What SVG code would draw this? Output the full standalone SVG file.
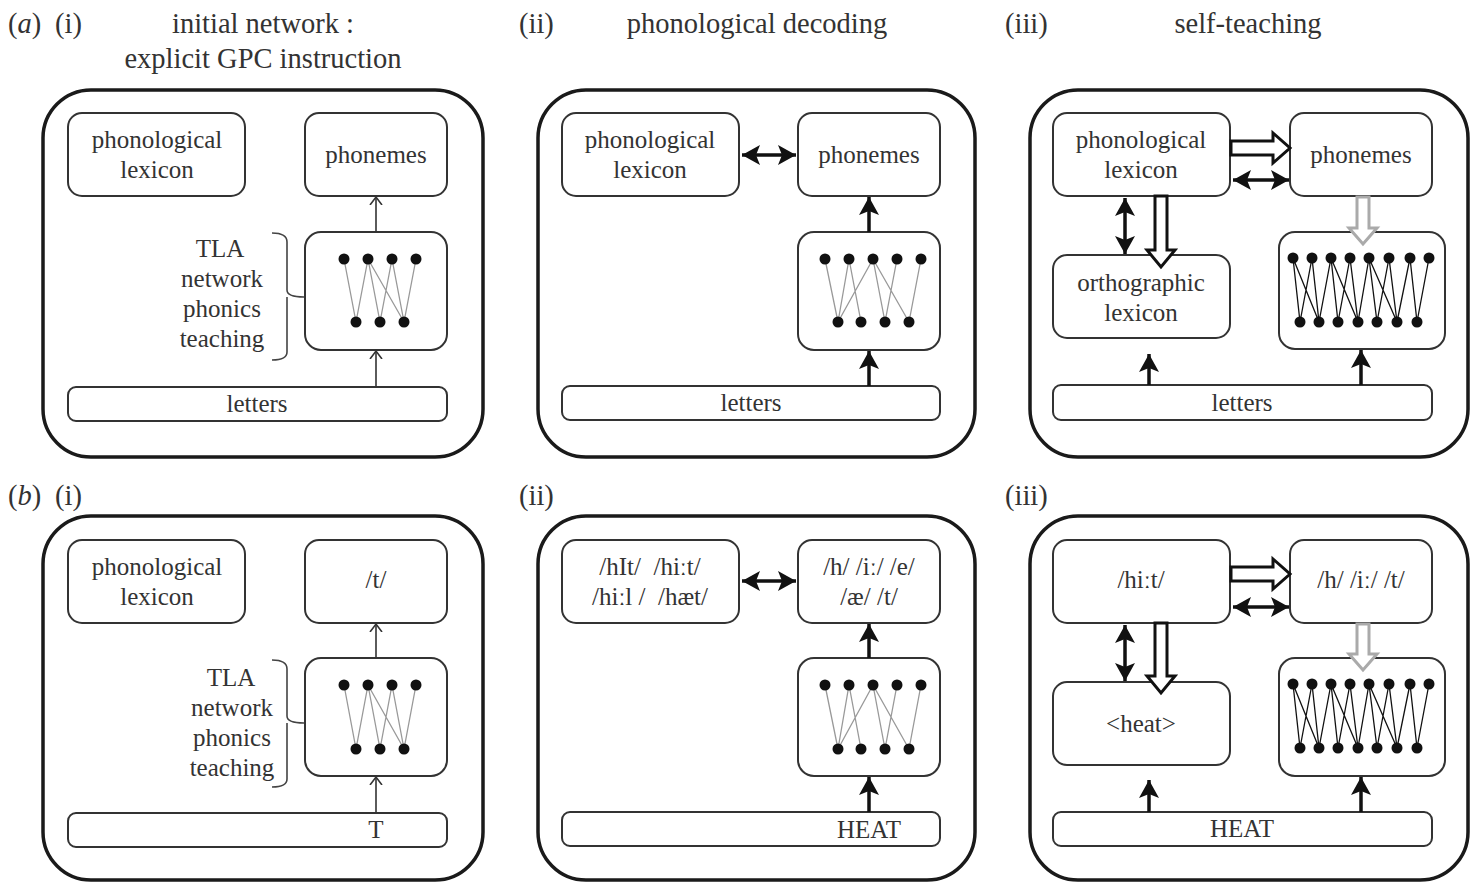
<svg xmlns="http://www.w3.org/2000/svg" width="1479" height="883" viewBox="0 0 1479 883">
<style>
text{font-family:"Liberation Serif","Times New Roman",serif;fill:#333;}
.t{font-size:28.5px;}
.l{font-size:25px;text-anchor:middle;}
.panel{fill:none;stroke:#1a1a1a;stroke-width:3.5;}
.box{fill:#fff;stroke:#333;stroke-width:2;}
.net{stroke:#999;stroke-width:1.3;fill:none;}
.netb{stroke:#111;stroke-width:1.3;fill:none;}
.dot{fill:#111;}
.thin{stroke:#333;stroke-width:1.6;fill:none;marker-end:url(#open);}
.thick{stroke:#111;stroke-width:3.5;fill:none;marker-end:url(#fill);}
.dbl{stroke:#111;stroke-width:3.5;fill:none;marker-end:url(#fill);marker-start:url(#fillS);}
.hol{fill:#fff;stroke:#111;stroke-width:3;stroke-linejoin:miter;}
.holg{fill:#fff;stroke:#aaa;stroke-width:3;}
.brace{fill:none;stroke:#444;stroke-width:1.6;}
</style>
<defs>
<marker id="open" markerUnits="userSpaceOnUse" markerWidth="16" markerHeight="16" viewBox="-8 -8 16 16" refX="0" refY="0" orient="auto">
<path d="M-8,-6 L0,0 L-8,6" fill="none" stroke="#333" stroke-width="1.6"/>
</marker>
<marker id="fill" markerUnits="userSpaceOnUse" markerWidth="22" markerHeight="24" viewBox="-18 -12 22 24" refX="0" refY="0" orient="auto">
<path d="M-18,-10 L0,0 L-18,10 L-14,0 Z" fill="#111"/>
</marker>
<marker id="fillS" markerUnits="userSpaceOnUse" markerWidth="22" markerHeight="24" viewBox="-4 -12 22 24" refX="0" refY="0" orient="auto">
<path d="M18,-10 L0,0 L18,10 L14,0 Z" fill="#111"/>
</marker>
</defs>

<g id="titles">
<text class="t" x="8" y="33">(<tspan font-style="italic">a</tspan>)</text>
<text class="t" x="55" y="33">(i)</text>
<text class="t" x="263" y="33" text-anchor="middle">initial network :</text>
<text class="t" x="263" y="68" text-anchor="middle">explicit GPC instruction</text>
<text class="t" x="519" y="33">(ii)</text>
<text class="t" x="757" y="33" text-anchor="middle">phonological decoding</text>
<text class="t" x="1005" y="33">(iii)</text>
<text class="t" x="1248" y="33" text-anchor="middle">self-teaching</text>
<text class="t" x="8" y="505">(<tspan font-style="italic">b</tspan>)</text>
<text class="t" x="55" y="505">(i)</text>
<text class="t" x="519" y="505">(ii)</text>
<text class="t" x="1005" y="505">(iii)</text>
</g>

<g id="panels">
<rect class="panel" x="43" y="90" width="440" height="367" rx="48"/>
<rect class="panel" x="538" y="90" width="437" height="367" rx="48"/>
<rect class="panel" x="1030" y="90" width="438" height="367" rx="48"/>
<rect class="panel" x="43" y="516" width="440" height="364" rx="48"/>
<rect class="panel" x="538" y="516" width="437" height="364" rx="48"/>
<rect class="panel" x="1030" y="516" width="438" height="364" rx="48"/>
</g>

<!-- a(i) -->
<g id="a1-phonlex"><rect class="box" x="68" y="113" width="177" height="83" rx="14"/><text class="l" x="157" y="148">phonological</text><text class="l" x="157" y="178">lexicon</text></g>
<g id="a1-phonemes"><rect class="box" x="305" y="113" width="142" height="83" rx="14"/><text class="l" x="376" y="163">phonemes</text></g>
<g id="a1-network"><rect class="box" x="305" y="232" width="142" height="118" rx="16"/>
<path class="net" d="M344,259L356,322M368,259L356,322M368,259L380,322M368,259L404,322M392,259L380,322M392,259L404,322M416,259L404,322"/>
<g class="dot"><circle cx="344" cy="259" r="5.5"/><circle cx="368" cy="259" r="5.5"/><circle cx="392" cy="259" r="5.5"/><circle cx="416" cy="259" r="5.5"/><circle cx="356" cy="322" r="5.5"/><circle cx="380" cy="322" r="5.5"/><circle cx="404" cy="322" r="5.5"/></g></g>
<g id="a1-tla"><path class="brace" d="M272,233 Q287,233 287,242 V290 Q287,297 304,297 M287,297 Q287,303 287,306 V352 Q287,360 272,360"/>
<text class="l" x="220" y="257">TLA</text><text class="l" x="222" y="287">network</text><text class="l" x="222" y="317">phonics</text><text class="l" x="222" y="347">teaching</text></g>
<g id="a1-letters"><rect class="box" x="68" y="387" width="379" height="34" rx="8"/><text class="l" x="257" y="412">letters</text></g>

<!-- a(ii) -->
<g id="a2-phonlex"><rect class="box" x="562" y="113" width="177" height="83" rx="14"/><text class="l" x="650" y="148">phonological</text><text class="l" x="650" y="178">lexicon</text></g>
<g id="a2-phonemes"><rect class="box" x="798" y="113" width="142" height="83" rx="14"/><text class="l" x="869" y="163">phonemes</text></g>
<g id="a2-network"><rect class="box" x="798" y="232" width="142" height="118" rx="16"/>
<path class="net" d="M825,259L838,322M849,259L838,322M849,259L861,322M873,259L838,322M873,259L885,322M873,259L909,322M897,259L885,322M921,259L909,322"/>
<g class="dot"><circle cx="825" cy="259" r="5.5"/><circle cx="849" cy="259" r="5.5"/><circle cx="873" cy="259" r="5.5"/><circle cx="897" cy="259" r="5.5"/><circle cx="921" cy="259" r="5.5"/><circle cx="838" cy="322" r="5.5"/><circle cx="861" cy="322" r="5.5"/><circle cx="885" cy="322" r="5.5"/><circle cx="909" cy="322" r="5.5"/></g></g>
<g id="a2-letters"><rect class="box" x="562" y="386" width="378" height="34" rx="8"/><text class="l" x="751" y="411">letters</text></g>

<!-- a(iii) -->
<g id="a3-phonlex"><rect class="box" x="1053" y="113" width="177" height="83" rx="14"/><text class="l" x="1141" y="148">phonological</text><text class="l" x="1141" y="178">lexicon</text></g>
<g id="a3-phonemes"><rect class="box" x="1290" y="113" width="142" height="83" rx="14"/><text class="l" x="1361" y="163">phonemes</text></g>
<g id="a3-ortho"><rect class="box" x="1053" y="255" width="177" height="83" rx="14"/><text class="l" x="1141" y="291">orthographic</text><text class="l" x="1141" y="321">lexicon</text></g>
<g id="a3-network"><rect class="box" x="1279" y="232" width="166" height="117" rx="16"/>
<path class="netb" d="M1293,258L1300,322M1293,258L1319,322M1312,258L1300,322M1312,258L1319,322M1331,258L1319,322M1331,258L1338,322M1331,258L1358,322M1350,258L1338,322M1350,258L1358,322M1369,258L1358,322M1369,258L1377,322M1369,258L1397,322M1389,258L1377,322M1389,258L1397,322M1410,258L1397,322M1410,258L1417,322M1429,258L1417,322"/>
<g class="dot"><circle cx="1293" cy="258" r="5.5"/><circle cx="1312" cy="258" r="5.5"/><circle cx="1331" cy="258" r="5.5"/><circle cx="1350" cy="258" r="5.5"/><circle cx="1369" cy="258" r="5.5"/><circle cx="1389" cy="258" r="5.5"/><circle cx="1410" cy="258" r="5.5"/><circle cx="1429" cy="258" r="5.5"/><circle cx="1300" cy="322" r="5.5"/><circle cx="1319" cy="322" r="5.5"/><circle cx="1338" cy="322" r="5.5"/><circle cx="1358" cy="322" r="5.5"/><circle cx="1377" cy="322" r="5.5"/><circle cx="1397" cy="322" r="5.5"/><circle cx="1417" cy="322" r="5.5"/></g></g>
<g id="a3-letters"><rect class="box" x="1053" y="385" width="379" height="35" rx="8"/><text class="l" x="1242" y="411">letters</text></g>

<!-- b(i) -->
<g id="b1-phonlex"><rect class="box" x="68" y="540" width="177" height="83" rx="14"/><text class="l" x="157" y="575">phonological</text><text class="l" x="157" y="605">lexicon</text></g>
<g id="b1-phonemes"><rect class="box" x="305" y="540" width="142" height="83" rx="14"/><text class="l" x="376" y="588">/t/</text></g>
<g id="b1-network"><rect class="box" x="305" y="658" width="142" height="118" rx="16"/>
<path class="net" d="M344,685L356,749M368,685L356,749M368,685L380,749M368,685L404,749M392,685L380,749M392,685L404,749M416,685L404,749"/>
<g class="dot"><circle cx="344" cy="685" r="5.5"/><circle cx="368" cy="685" r="5.5"/><circle cx="392" cy="685" r="5.5"/><circle cx="416" cy="685" r="5.5"/><circle cx="356" cy="749" r="5.5"/><circle cx="380" cy="749" r="5.5"/><circle cx="404" cy="749" r="5.5"/></g></g>
<g id="b1-tla"><path class="brace" d="M272,660 Q287,660 287,669 V716 Q287,723 304,723 M287,723 Q287,729 287,732 V779 Q287,787 272,787"/>
<text class="l" x="231" y="686">TLA</text><text class="l" x="232" y="716">network</text><text class="l" x="232" y="746">phonics</text><text class="l" x="232" y="776">teaching</text></g>
<g id="b1-letters"><rect class="box" x="68" y="813" width="379" height="34" rx="8"/><text class="l" x="376" y="838">T</text></g>

<!-- b(ii) -->
<g id="b2-phonlex"><rect class="box" x="562" y="540" width="177" height="83" rx="14"/><text class="l" x="650" y="575" xml:space="preserve">/hIt/  /hiːt/</text><text class="l" x="650" y="605" xml:space="preserve">/hiːl /  /hæt/</text></g>
<g id="b2-phonemes"><rect class="box" x="798" y="540" width="142" height="83" rx="14"/><text class="l" x="869" y="575">/h/ /iː/ /e/</text><text class="l" x="869" y="605">/æ/ /t/</text></g>
<g id="b2-network"><rect class="box" x="798" y="658" width="142" height="118" rx="16"/>
<path class="net" d="M825,685L838,749M849,685L838,749M849,685L861,749M873,685L838,749M873,685L885,749M873,685L909,749M897,685L885,749M921,685L909,749"/>
<g class="dot"><circle cx="825" cy="685" r="5.5"/><circle cx="849" cy="685" r="5.5"/><circle cx="873" cy="685" r="5.5"/><circle cx="897" cy="685" r="5.5"/><circle cx="921" cy="685" r="5.5"/><circle cx="838" cy="749" r="5.5"/><circle cx="861" cy="749" r="5.5"/><circle cx="885" cy="749" r="5.5"/><circle cx="909" cy="749" r="5.5"/></g></g>
<g id="b2-letters"><rect class="box" x="562" y="812" width="378" height="34" rx="8"/><text class="l" x="869" y="838">HEAT</text></g>

<!-- b(iii) -->
<g id="b3-phonlex"><rect class="box" x="1053" y="540" width="177" height="83" rx="14"/><text class="l" x="1141" y="588">/hiːt/</text></g>
<g id="b3-phonemes"><rect class="box" x="1290" y="540" width="142" height="83" rx="14"/><text class="l" x="1361" y="588">/h/ /iː/ /t/</text></g>
<g id="b3-ortho"><rect class="box" x="1053" y="682" width="177" height="83" rx="14"/><text class="l" x="1141" y="732">&lt;heat&gt;</text></g>
<g id="b3-network"><rect class="box" x="1279" y="658" width="166" height="118" rx="16"/>
<path class="netb" d="M1293,684L1300,748M1293,684L1319,748M1312,684L1300,748M1312,684L1319,748M1331,684L1319,748M1331,684L1338,748M1331,684L1358,748M1350,684L1338,748M1350,684L1358,748M1369,684L1358,748M1369,684L1377,748M1369,684L1397,748M1389,684L1377,748M1389,684L1397,748M1410,684L1397,748M1410,684L1417,748M1429,684L1417,748"/>
<g class="dot"><circle cx="1293" cy="684" r="5.5"/><circle cx="1312" cy="684" r="5.5"/><circle cx="1331" cy="684" r="5.5"/><circle cx="1350" cy="684" r="5.5"/><circle cx="1369" cy="684" r="5.5"/><circle cx="1389" cy="684" r="5.5"/><circle cx="1410" cy="684" r="5.5"/><circle cx="1429" cy="684" r="5.5"/><circle cx="1300" cy="748" r="5.5"/><circle cx="1319" cy="748" r="5.5"/><circle cx="1338" cy="748" r="5.5"/><circle cx="1358" cy="748" r="5.5"/><circle cx="1377" cy="748" r="5.5"/><circle cx="1397" cy="748" r="5.5"/><circle cx="1417" cy="748" r="5.5"/></g></g>
<g id="b3-letters"><rect class="box" x="1053" y="812" width="379" height="34" rx="8"/><text class="l" x="1242" y="837">HEAT</text></g>

<g id="connectors">
<!-- a(i) -->
<line class="thin" x1="376" y1="232" x2="376" y2="197"/>
<line class="thin" x1="376" y1="387" x2="376" y2="351"/>
<!-- a(ii) -->
<line class="dbl" x1="742" y1="155" x2="796" y2="155"/>
<line class="thick" x1="869" y1="232" x2="869" y2="197"/>
<line class="thick" x1="869" y1="386" x2="869" y2="351"/>
<!-- a(iii) -->
<polygon class="hol" points="1231,141 1273,141 1273,133 1290,148 1273,163 1273,155 1231,155"/>
<line class="dbl" x1="1233" y1="180" x2="1289" y2="180"/>
<line class="dbl" x1="1125" y1="198" x2="1125" y2="254"/>
<polygon class="hol" points="1155,196 1155,250 1147,250 1161,267 1175,250 1167,250 1167,196"/>
<polygon class="holg" points="1357,197 1357,228 1349,228 1363,244 1377,228 1369,228 1369,197"/>
<line class="thick" x1="1149" y1="385" x2="1149" y2="354"/>
<line class="thick" x1="1361" y1="385" x2="1361" y2="350"/>
<!-- b(i) -->
<line class="thin" x1="376" y1="658" x2="376" y2="624"/>
<line class="thin" x1="376" y1="813" x2="376" y2="777"/>
<!-- b(ii) -->
<line class="dbl" x1="742" y1="581" x2="796" y2="581"/>
<line class="thick" x1="869" y1="658" x2="869" y2="624"/>
<line class="thick" x1="869" y1="812" x2="869" y2="777"/>
<!-- b(iii) -->
<polygon class="hol" points="1231,567 1273,567 1273,559 1290,574 1273,589 1273,581 1231,581"/>
<line class="dbl" x1="1233" y1="607" x2="1289" y2="607"/>
<line class="dbl" x1="1125" y1="625" x2="1125" y2="681"/>
<polygon class="hol" points="1155,623 1155,676 1147,676 1161,693 1175,676 1167,676 1167,623"/>
<polygon class="holg" points="1357,624 1357,654 1349,654 1363,670 1377,654 1369,654 1369,624"/>
<line class="thick" x1="1149" y1="812" x2="1149" y2="780"/>
<line class="thick" x1="1361" y1="812" x2="1361" y2="777"/>
</g>
</svg>
